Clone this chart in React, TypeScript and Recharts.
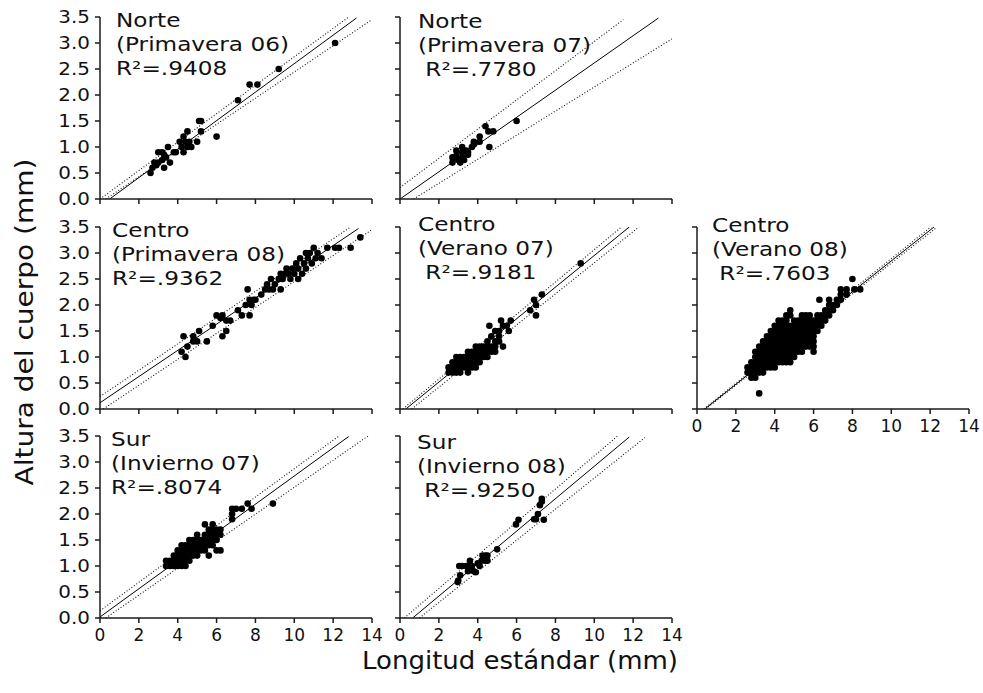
import { ScatterChart, Scatter, XAxis, YAxis, ReferenceLine } from 'recharts';

type Pair = [number, number];
type Column = [number, number[]];
type Seg = [Pair, Pair];

const xTicks = [0, 2, 4, 6, 8, 10, 12, 14];
const yTicks = [0, 0.5, 1, 1.5, 2, 2.5, 3, 3.5];

// Norte (Primavera 06)
const norte06: Pair[] = [
  [2.6, 0.5], [2.7, 0.6], [2.8, 0.7], [2.9, 0.65], [3.0, 0.7], [3.0, 0.9], [3.2, 0.75], [3.2, 0.9],
  [3.3, 0.6], [3.3, 0.85], [3.4, 0.8], [3.5, 1.0], [3.6, 0.7], [3.8, 0.9], [3.9, 0.9], [4.1, 1.1],
  [4.2, 1.0], [4.3, 0.9], [4.3, 1.2], [4.4, 1.1], [4.5, 1.3], [4.5, 1.0], [4.6, 1.1], [4.7, 1.0],
  [5.0, 1.1], [5.1, 1.5], [5.2, 1.5], [5.2, 1.3], [6.0, 1.2], [7.1, 1.9], [7.7, 2.2], [8.1, 2.2],
  [9.2, 2.5], [12.1, 3.0],
];

// Norte (Primavera 07)
const norte07: Pair[] = [
  [2.7, 0.7], [2.7, 0.8], [2.9, 0.83], [2.9, 0.93], [3.0, 0.75], [3.1, 0.7], [3.2, 0.8], [3.2, 0.9],
  [3.2, 1.0], [3.3, 0.75], [3.4, 0.93], [3.5, 0.85], [3.5, 0.9], [3.7, 1.0], [3.8, 1.05], [3.8, 1.1],
  [4.1, 1.1], [4.1, 1.2], [4.4, 1.4], [4.55, 1.3], [4.6, 1.0], [4.8, 1.3], [6.0, 1.5],
];

// Centro (Primavera 08)
const centroP08: Pair[] = [
  [4.2, 1.1], [4.3, 1.4], [4.4, 1.0], [4.5, 1.2], [4.8, 1.3], [4.8, 1.4], [5.0, 1.3], [5.1, 1.5],
  [5.5, 1.3], [5.8, 1.6], [6.0, 1.8], [6.2, 1.75], [6.3, 1.4], [6.3, 1.8], [6.5, 1.5], [6.5, 1.7],
  [6.7, 1.7], [7.1, 1.9], [7.3, 1.8], [7.5, 2.0], [7.6, 2.3], [7.7, 1.8], [7.7, 2.1], [7.8, 2.0],
  [7.9, 2.1], [8.0, 2.1], [8.3, 2.2], [8.5, 2.3], [8.6, 2.4], [8.7, 2.3], [8.8, 2.5], [8.9, 2.3],
  [9.0, 2.4], [9.2, 2.5], [9.3, 2.3], [9.3, 2.6], [9.4, 2.5], [9.5, 2.6], [9.6, 2.7], [9.7, 2.6],
  [9.8, 2.5], [9.9, 2.7], [10.0, 2.6], [10.1, 2.8], [10.2, 2.5], [10.2, 2.7], [10.3, 2.9], [10.4, 2.6],
  [10.5, 2.8], [10.6, 3.0], [10.6, 2.7], [10.7, 2.9], [10.8, 3.0], [10.9, 2.8], [11.0, 3.1], [11.1, 2.9],
  [11.2, 3.0], [11.4, 2.9], [11.7, 3.1], [12.1, 3.1], [12.3, 3.1], [12.9, 3.1], [13.4, 3.3],
];

// Centro (Verano 07)
const centroV07: Column[] = [
  [2.5, [0.7, 0.8]], [2.7, [0.7, 0.8, 0.9]], [2.9, [0.7, 0.8, 0.9, 1.0]], [3.1, [0.7, 0.8, 0.9, 1.0]],
  [3.3, [0.8, 0.9, 1.0]], [3.5, [0.7, 0.8, 0.9, 1.0, 1.1]], [3.7, [0.8, 0.9, 1.0, 1.1]],
  [3.9, [0.8, 0.9, 1.0, 1.1, 1.2]], [4.1, [0.9, 1.0, 1.1, 1.2]], [4.3, [1.0, 1.1, 1.2]],
  [4.5, [1.0, 1.1, 1.2, 1.3]], [4.6, [1.6]], [4.7, [1.1, 1.2, 1.4]], [4.9, [1.1, 1.2, 1.3, 1.5]],
  [5.1, [1.3, 1.4, 1.5]], [5.2, [1.7]], [5.3, [1.2, 1.6]], [5.5, [1.6]], [5.6, [1.5]], [5.7, [1.7]],
  [6.7, [1.9]], [6.9, [2.1]], [7.0, [1.8, 2.0]], [7.3, [2.2]], [9.3, [2.8]],
];

// Centro (Verano 08)
const centroV08: Column[] = [
  [2.6, [0.7, 0.8]],
  [2.8, [0.6, 0.7, 0.8, 0.9]],
  [3.0, [0.6, 0.7, 0.8, 0.9, 1.0, 1.1]],
  [3.2, [0.3, 0.7, 0.8, 0.9, 1.0, 1.1, 1.2]],
  [3.4, [0.7, 0.8, 0.9, 1.0, 1.1, 1.2, 1.3]],
  [3.6, [0.8, 0.9, 1.0, 1.1, 1.2, 1.3, 1.4]],
  [3.8, [0.8, 0.9, 1.0, 1.1, 1.2, 1.3, 1.4, 1.5]],
  [4.0, [0.8, 0.9, 1.0, 1.1, 1.2, 1.3, 1.4, 1.5, 1.6]],
  [4.2, [0.9, 1.0, 1.1, 1.2, 1.3, 1.4, 1.5, 1.6, 1.7]],
  [4.4, [0.9, 1.0, 1.1, 1.2, 1.3, 1.4, 1.5, 1.6, 1.7]],
  [4.6, [0.9, 1.0, 1.1, 1.2, 1.3, 1.4, 1.5, 1.6, 1.7, 1.8]],
  [4.8, [0.9, 1.0, 1.1, 1.2, 1.3, 1.4, 1.5, 1.6, 1.8, 1.9]],
  [5.0, [1.0, 1.1, 1.2, 1.3, 1.4, 1.5, 1.6, 1.7]],
  [5.2, [1.1, 1.2, 1.3, 1.4, 1.5, 1.6, 1.7]],
  [5.4, [1.1, 1.2, 1.3, 1.4, 1.5, 1.6, 1.7, 1.8]],
  [5.6, [1.2, 1.3, 1.4, 1.5, 1.6, 1.7, 1.8]],
  [5.8, [1.2, 1.3, 1.4, 1.5, 1.6, 1.7, 1.8]],
  [6.0, [1.1, 1.2, 1.3, 1.4, 1.5, 1.6, 1.7]],
  [6.2, [1.5, 1.6, 1.7, 1.8]],
  [6.3, [2.1]],
  [6.4, [1.6, 1.7, 1.8]],
  [6.6, [1.7, 1.8, 1.9]],
  [6.8, [1.8, 1.9, 2.0, 2.1]],
  [7.0, [1.9, 2.0]],
  [7.2, [2.0, 2.1]],
  [7.4, [2.1, 2.2, 2.3]],
  [7.7, [2.2, 2.3]],
  [8.0, [2.5]],
  [8.1, [2.3]],
  [8.4, [2.3]],
];

// Sur (Invierno 07)
const surI07: Column[] = [
  [3.4, [1.0, 1.1]], [3.6, [1.0, 1.1]], [3.8, [1.0, 1.1, 1.2]], [4.0, [1.0, 1.1, 1.2, 1.3]],
  [4.2, [1.0, 1.1, 1.2, 1.3, 1.4]], [4.4, [1.0, 1.1, 1.2, 1.3, 1.4]], [4.6, [1.1, 1.2, 1.3, 1.4, 1.5]],
  [4.8, [1.2, 1.3, 1.4, 1.5]], [5.0, [1.2, 1.3, 1.4, 1.5, 1.6]], [5.2, [1.3, 1.4, 1.5]],
  [5.4, [1.3, 1.4, 1.5, 1.6, 1.8]], [5.6, [1.2, 1.4, 1.5, 1.6, 1.7]], [5.8, [1.4, 1.5, 1.6, 1.7, 1.8]],
  [6.0, [1.3, 1.5, 1.6, 1.7]], [6.2, [1.3, 1.6, 1.7]], [6.8, [1.9, 2.0, 2.1]], [7.0, [2.1]],
  [7.3, [2.1]], [7.6, [2.2]], [7.8, [2.1]], [8.9, [2.2]],
];

// Sur (Invierno 08)
const surI08: Pair[] = [
  [2.97, 0.69], [3.0, 0.72], [3.1, 0.82], [3.05, 1.0], [3.2, 1.0], [3.4, 1.0], [3.5, 0.9], [3.6, 1.0],
  [3.6, 1.1], [3.7, 1.0], [3.8, 0.9], [3.9, 0.88], [4.0, 1.05], [4.1, 1.0], [4.2, 1.1], [4.25, 1.2],
  [4.4, 1.2], [4.4, 1.1], [4.5, 1.1], [4.5, 1.2], [5.0, 1.32], [5.97, 1.8], [6.1, 1.89], [6.9, 1.9],
  [7.0, 1.9], [7.1, 2.0], [7.2, 2.17], [7.3, 2.24], [7.3, 2.29], [7.4, 1.89],
];

// regression line and confidence limits: [start, end] in data units
const fits: Seg[] = [
  [[0.5, 0], [13.2, 3.48]],
  [[0, 0], [13.3, 3.48]],
  [[0, 0.12], [13.3, 3.47]],
  [[0.3, 0], [11.8, 3.5]],
  [[0.4, 0], [12.2, 3.5]],
  [[0, 0.02], [12.8, 3.49]],
  [[0.65, 0], [11.8, 3.48]],
];
const uppers: Seg[] = [
  [[0, 0], [12.8, 3.5]],
  [[0, 0.22], [11.5, 3.45]],
  [[0, 0.24], [12.9, 3.5]],
  [[0.15, 0], [11.4, 3.5]],
  [[0.35, 0], [12.1, 3.52]],
  [[0, 0.14], [12.3, 3.5]],
  [[0.22, 0], [11.2, 3.5]],
];
const lowers: Seg[] = [
  [[0.3, 0], [14, 3.45]],
  [[0.7, 0], [14, 3.08]],
  [[0.17, 0], [14, 3.45]],
  [[0.6, 0], [12.3, 3.5]],
  [[0.45, 0], [12.3, 3.48]],
  [[0.3, 0], [13.8, 3.5]],
  [[1.0, 0], [12.6, 3.47]],
];

const titles: string[][] = [
  ['Norte', '(Primavera 06)', 'R²=.9408'],
  ['Norte', '(Primavera 07)', ' R²=.7780'],
  ['Centro', '(Primavera 08)', 'R²=.9362'],
  ['Centro', '(Verano 07)', ' R²=.9181'],
  ['Centro', '(Verano 08)', ' R²=.7603'],
  ['Sur', '(Invierno 07)', 'R²=.8074'],
  ['Sur', '(Invierno 08)', ' R²=.9250'],
];

const fromColumns = (cols: Column[]): Pair[] => cols.flatMap(([x, ys]) => ys.map(y => [x, y] as Pair));

const panelData: Pair[][] = [
  norte06, norte07, centroP08, fromColumns(centroV07), fromColumns(centroV08), fromColumns(surI07), surI08,
];

// layout
const FONT = '"DejaVu Sans", Verdana, sans-serif';
const PLOT_W = 272;
const PLOT_H = 182;
const Y_AXIS_W = 60;
const colLeft = [100, 400, 697];
const rowTop = [17, 227, 436];
const cells = [
  { col: 0, row: 0, showY: true, showX: false, tx: 116, ty: 27 },
  { col: 1, row: 0, showY: false, showX: false, tx: 418, ty: 28 },
  { col: 0, row: 1, showY: true, showX: false, tx: 112, ty: 237 },
  { col: 1, row: 1, showY: false, showX: false, tx: 418, ty: 231 },
  { col: 2, row: 1, showY: false, showX: true, tx: 712, ty: 232 },
  { col: 0, row: 2, showY: true, showX: true, tx: 111, ty: 446 },
  { col: 1, row: 2, showY: false, showX: true, tx: 417, ty: 449 },
];

const AXIS = '#1a1a1a';

const Dot = (props: any) => <circle cx={props.cx} cy={props.cy} r={3.3} fill="#000" />;

const YTick = (props: any) => (
  <g transform={`translate(${props.x},${props.y})`}>
    <text textAnchor="end" dy={6} fontSize={17} fontFamily={FONT} fill="#111" transform="scale(1.17,1)">
      {Number(props.payload.value).toFixed(1)}
    </text>
  </g>
);

const XTick = (props: any) => (
  <text x={props.x} y={props.y} dy="0.71em" textAnchor="middle" fontSize={17} fontFamily={FONT} fill="#111">
    {props.payload.value}
  </text>
);

const NoTick = () => <g />;

const segPts = (s: Seg) => [{ x: s[0][0], y: s[0][1] }, { x: s[1][0], y: s[1][1] }];

function Panel({ idx }: { idx: number }) {
  const c = cells[idx];
  const data = panelData[idx].map(([x, y]) => ({ x, y }));
  return (
    <div style={{ position: 'absolute', left: colLeft[c.col] - Y_AXIS_W, top: rowTop[c.row] - 10 }}>
      <ScatterChart
        width={Y_AXIS_W + PLOT_W + 15}
        height={10 + PLOT_H + 30}
        margin={{ top: 10, right: 15, bottom: 0, left: 0 }}
      >
        <XAxis
          type="number"
          dataKey="x"
          domain={[0, 14]}
          ticks={xTicks}
          allowDataOverflow
          height={30}
          stroke={AXIS}
          strokeWidth={1.5}
          tickSize={5}
          tickMargin={6}
          tick={c.showX ? XTick : NoTick}
        />
        <YAxis
          type="number"
          dataKey="y"
          domain={[0, 3.5]}
          ticks={yTicks}
          allowDataOverflow
          width={Y_AXIS_W}
          stroke={AXIS}
          strokeWidth={1.5}
          tickSize={5}
          tickMargin={5}
          tick={c.showY ? YTick : NoTick}
        />
        <ReferenceLine segment={segPts(uppers[idx])} stroke="#111" strokeWidth={1.1} strokeDasharray="1 2" ifOverflow="hidden" />
        <ReferenceLine segment={segPts(lowers[idx])} stroke="#111" strokeWidth={1.1} strokeDasharray="1 2" ifOverflow="hidden" />
        <ReferenceLine segment={segPts(fits[idx])} stroke="#000" strokeWidth={1} ifOverflow="hidden" />
        <Scatter data={data} shape={Dot} isAnimationActive={false} />
      </ScatterChart>
    </div>
  );
}

export default function App() {
  return (
    <div style={{ position: 'absolute', left: 0, top: 0, width: 983, height: 693, background: '#fff', fontFamily: FONT }}>
      {cells.map((_, i) => (
        <Panel key={i} idx={i} />
      ))}
      <svg width={983} height={693} style={{ position: 'absolute', left: 0, top: 0, pointerEvents: 'none' }}>
        {cells.map((c, i) => (
          <text
            key={i}
            transform={`translate(${c.tx},${c.ty}) scale(1.22,1)`}
            fontSize={19}
            fontFamily={FONT}
            fill="#111"
            style={{ whiteSpace: 'pre' }}
          >
            {titles[i].map((line, j) => (
              <tspan key={j} x={0} dy={j === 0 ? 0 : 24}>
                {line}
              </tspan>
            ))}
          </text>
        ))}
        <text
          transform="translate(520,669) scale(1.04,1)"
          textAnchor="middle"
          fontSize={25}
          fontFamily={FONT}
          fill="#111"
        >
          Longitud estándar (mm)
        </text>
        <text
          transform="translate(33,322) rotate(-90) scale(1.12,1)"
          textAnchor="middle"
          fontSize={25}
          fontFamily={FONT}
          fill="#111"
        >
          Altura del cuerpo (mm)
        </text>
      </svg>
    </div>
  );
}
